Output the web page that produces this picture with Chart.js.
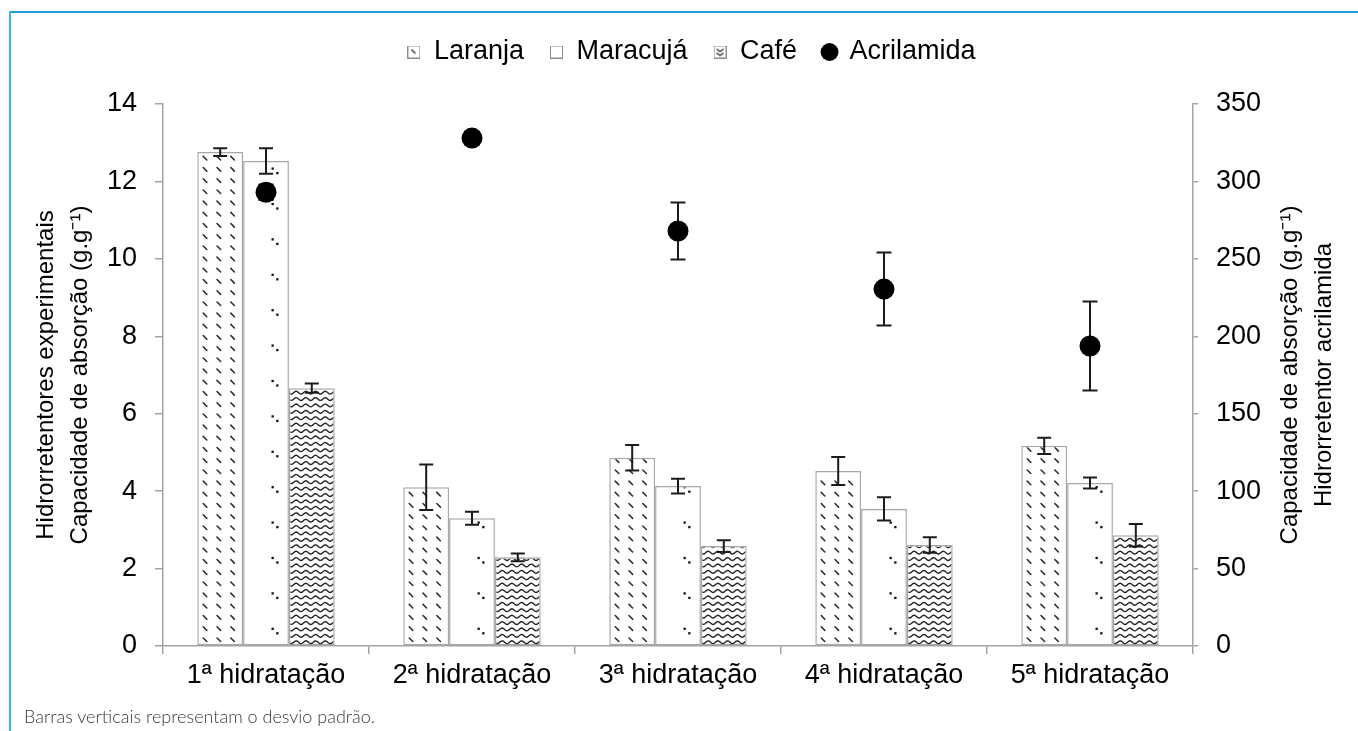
<!DOCTYPE html>
<html lang="pt">
<head>
<meta charset="utf-8">
<title>Capacidade de absorção dos hidrorretentores</title>
<script src="https://cdn.jsdelivr.net/npm/chart.js@4.4.1/dist/chart.umd.min.js"></script>
<style>
  html, body { margin: 0; padding: 0; background: #fff; }
  #wrap { position: relative; width: 1358px; height: 731px; overflow: hidden; }
  #c { position: absolute; left: 0; top: 0; width: 1358px; height: 731px; }
  .frame-top { position: absolute; left: 9px; top: 11px; right: 0; height: 2px; background: #1e9ed8; }
  .frame-left { position: absolute; left: 9px; top: 11px; bottom: 0; width: 2px; background: #3ab5e6; }
  #note { position: absolute; left: 24px; top: 705px; line-height: 20px;
          font: 300 18px Lato, "Open Sans", sans-serif; color: #3a3a3a; white-space: nowrap; }
</style>
</head>
<body>
<div id="wrap">
  <canvas id="c" width="1358" height="731"></canvas>
  <div class="frame-top"></div>
  <div class="frame-left"></div>
  <div id="note">Barras verticais representam o desvio padrão.</div>
</div>
<script>
// ---- data ----
const categories = ['1ª hidratação', '2ª hidratação', '3ª hidratação', '4ª hidratação', '5ª hidratação'];

const laranja      = [12.76, 4.10, 4.86, 4.52, 5.17];
const laranjaSd    = [0.10, 0.59, 0.33, 0.36, 0.21];
const maracuja     = [12.53, 3.30, 4.13, 3.54, 4.21];
const maracujaSd   = [0.33, 0.17, 0.19, 0.30, 0.14];
const cafe         = [6.66, 2.29, 2.58, 2.61, 2.86];
const cafeSd       = [0.12, 0.10, 0.15, 0.20, 0.29];
const acrilamida   = [293, 328, 268, 230.5, 193.7];
const acrilamidaSd = [5, 4, 18.4, 23.6, 28.7];

const seriesNames = ['Laranja', 'Maracujá', 'Café', 'Acrilamida'];
const leftTicks  = { min: 0, max: 14, step: 2 };
const rightTicks = { min: 0, max: 350, step: 50 };
const leftTitle  = ['Hidrorretentores experimentais', 'Capacidade de absorção (g.g\u207B\u00B9)'];
const rightTitle = ['Capacidade de absorção (g.g\u207B\u00B9)', 'Hidrorretentor acrilamida'];

// ---- styling ----
const FONT = '"Liberation Sans", Arial, sans-serif';
const AXIS_GREY = '#a3a3a3';
const BAR_EDGE = '#a8a8a8';
const INK = '#1c1c1c';

// fill textures drawn inside each bar rectangle
const painters = {
  dashes(ctx, r) {
    ctx.strokeStyle = '#2a2a2a';
    ctx.lineWidth = 1.5;
    ctx.lineCap = 'round';
    ctx.beginPath();
    const cols = [7.7, 21.5, 35.3];
    for (let y = r.bottom - 5.5; y > r.top + 2; y -= 11.2) {
      for (const c of cols) {
        const x = r.left + c;
        ctx.moveTo(x - 1.8, y - 1.8);
        ctx.lineTo(x + 1.8, y + 1.8);
      }
    }
    ctx.stroke();
  },
  dots(ctx, r) {
    ctx.fillStyle = '#111';
    for (let y = r.bottom - 16.5; y > r.top + 1; y -= 35.4) {
      ctx.fillRect(r.left + 29.5 - 1.1, y - 1.1, 2.3, 2.3);
      ctx.fillRect(r.left + 34.2 - 1.1, y + 4.5 - 1.1, 2.3, 2.3);
    }
  },
  waves(ctx, r) {
    ctx.strokeStyle = '#262626';
    ctx.lineWidth = 1.4;
    ctx.beginPath();
    for (let y = r.bottom - 3; y > r.top - 3; y -= 6.4) {
      for (let x = r.left; x <= r.right; x += 1) {
        const yy = y + 1.4 * Math.sin((x - r.left) * 2 * Math.PI / 9.7);
        if (x === r.left) ctx.moveTo(x, yy); else ctx.lineTo(x, yy);
      }
    }
    ctx.stroke();
  }
};

// small legend swatches
function swatch(kind) {
  const s = 13;
  const cv = document.createElement('canvas');
  cv.width = s; cv.height = s;
  const g = cv.getContext('2d');
  g.fillStyle = '#fff';
  g.fillRect(0, 0, s, s);
  g.strokeStyle = '#8c8c8c';
  g.lineWidth = 1;
  g.strokeRect(0.5, 0.5, s - 1, s - 1);
  g.strokeStyle = '#222';
  g.lineWidth = 1.3;
  if (kind === 'dashes') {
    g.beginPath(); g.moveTo(4, 4); g.lineTo(8, 8); g.stroke();
  } else if (kind === 'waves') {
    g.beginPath();
    g.moveTo(3, 3.5); g.lineTo(6.5, 6); g.lineTo(10, 3.5);
    g.moveTo(3, 7.5); g.lineTo(6.5, 10); g.lineTo(10, 7.5);
    g.stroke();
  }
  return cv;
}
const legendMarks = [swatch('dashes'), swatch('plain'), swatch('waves'), 'circle'];

function barRect(el) {
  const p = el.getProps(['x', 'y', 'base', 'width'], true);
  return { left: p.x - p.width / 2, right: p.x + p.width / 2,
           top: Math.min(p.y, p.base), bottom: Math.max(p.y, p.base), cx: p.x };
}

function errorBar(ctx, x, yTop, yBot, cap) {
  ctx.beginPath();
  ctx.moveTo(x, yTop); ctx.lineTo(x, yBot);
  ctx.moveTo(x - cap / 2, yTop); ctx.lineTo(x + cap / 2, yTop);
  ctx.moveTo(x - cap / 2, yBot); ctx.lineTo(x + cap / 2, yBot);
  ctx.stroke();
}

const decorations = {
  id: 'decorations',
  beforeInit(chart) {
    // extra room between the legend row and the plot
    const legend = chart.legend;
    if (legend) {
      const fit = legend.fit.bind(legend);
      legend.fit = function () { fit(); this.height += 28.5; };
    }
  },
  beforeDatasetDraw(chart, args) {
    const ds = chart.data.datasets[args.index];
    if (ds.type !== 'line') return;
    const ctx = chart.ctx;
    const scale = chart.scales[ds.yAxisID];
    ctx.save();
    ctx.strokeStyle = INK;
    ctx.lineWidth = 2;
    args.meta.data.forEach((pt, i) => {
      const v = ds.data[i], e = ds.errors[i];
      errorBar(ctx, pt.x, scale.getPixelForValue(v + e), scale.getPixelForValue(v - e), 15);
    });
    ctx.restore();
  },
  afterDatasetDraw(chart, args) {
    const ds = chart.data.datasets[args.index];
    if (ds.type === 'line') return;
    const ctx = chart.ctx;
    const scale = chart.scales.y;
    args.meta.data.forEach((bar, i) => {
      const r = barRect(bar);
      ctx.save();
      ctx.beginPath();
      ctx.rect(r.left + 1.5, r.top + 1.5, r.right - r.left - 3, r.bottom - r.top - 1.5);
      ctx.clip();
      painters[ds.texture] && painters[ds.texture](ctx, r);
      ctx.restore();
      ctx.save();
      ctx.strokeStyle = INK;
      ctx.lineWidth = 2;
      const v = ds.data[i], e = ds.errors[i];
      errorBar(ctx, r.cx, scale.getPixelForValue(v + e), scale.getPixelForValue(v - e), 14);
      ctx.restore();
    });
  },
  afterDraw(chart) {
    // right-hand title, read bottom-to-top like the left one
    const s = chart.scales.y1;
    const ctx = chart.ctx;
    const cy = (chart.chartArea.top + chart.chartArea.bottom) / 2;
    ctx.save();
    ctx.font = '24px ' + FONT;
    ctx.fillStyle = '#000';
    ctx.textAlign = 'center';
    ctx.textBaseline = 'middle';
    rightTitle.forEach((t, i) => {
      ctx.save();
      ctx.translate(s.left + 97 + i * 34, cy);
      ctx.rotate(-Math.PI / 2);
      ctx.fillText(t, 0, 0);
      ctx.restore();
    });
    ctx.restore();
  }
};

const barBase = {
  type: 'bar',
  backgroundColor: '#fff',
  borderColor: BAR_EDGE,
  borderWidth: 1.5,
  borderSkipped: false,
  categoryPercentage: 0.667,
  barPercentage: 1,
  yAxisID: 'y',
  order: 1
};

const data = {
  labels: categories,
  datasets: [
    Object.assign({}, barBase, { label: seriesNames[0], data: laranja, errors: laranjaSd, texture: 'dashes' }),
    Object.assign({}, barBase, { label: seriesNames[1], data: maracuja, errors: maracujaSd, texture: 'dots' }),
    Object.assign({}, barBase, { label: seriesNames[2], data: cafe, errors: cafeSd, texture: 'waves' }),
    {
      type: 'line', label: seriesNames[3], data: acrilamida, errors: acrilamidaSd,
      yAxisID: 'y1', showLine: false, order: 0,
      pointRadius: 10.5, pointHoverRadius: 10.5,
      pointBackgroundColor: '#000', pointBorderColor: '#000', pointBorderWidth: 0,
      borderColor: '#000', backgroundColor: '#000'
    }
  ]
};

const tickFont = { family: FONT, size: 27 };

new Chart(document.getElementById('c'), {
  data,
  plugins: [decorations],
  options: {
    responsive: false,
    devicePixelRatio: 1,
    animation: false,
    events: [],
    layout: { padding: { left: 25, right: 0, top: 12.5, bottom: 0 } },
    plugins: {
      tooltip: { enabled: false },
      legend: {
        position: 'top',
        align: 'center',
        labels: {
          usePointStyle: true,
          boxWidth: 13,
          boxHeight: 12.7,
          padding: 26,
          color: '#000',
          font: { family: FONT, size: 27 },
          generateLabels(chart) {
            return chart.data.datasets.map((ds, i) => ({
              text: ds.label,
              pointStyle: legendMarks[i],
              fillStyle: '#000',
              strokeStyle: '#000',
              lineWidth: 0,
              fontColor: '#000',
              hidden: false,
              datasetIndex: i
            }));
          }
        }
      }
    },
    scales: {
      x: {
        type: 'category',
        offset: true,
        grid: { display: true, drawOnChartArea: false, offset: true, tickLength: 8, color: AXIS_GREY, lineWidth: 1.5 },
        border: { display: true, color: AXIS_GREY, width: 1.5 },
        ticks: { color: '#000', font: tickFont, padding: 5, maxRotation: 0, autoSkip: false },
        afterFit(scale) { scale.height = 85; }
      },
      y: {
        position: 'left',
        min: leftTicks.min, max: leftTicks.max,
        ticks: { stepSize: leftTicks.step, color: '#000', font: tickFont, padding: 18 },
        grid: { drawOnChartArea: false, tickLength: 8, color: AXIS_GREY, lineWidth: 1.5 },
        border: { display: true, color: AXIS_GREY, width: 1.5 },
        title: {
          display: true, text: leftTitle, color: '#000',
          font: { family: FONT, size: 24, lineHeight: 1.4 },
          padding: { top: 5, bottom: 0 }
        },
        afterFit(scale) { scale.width = 138; }
      },
      y1: {
        position: 'right',
        min: rightTicks.min, max: rightTicks.max,
        ticks: { stepSize: rightTicks.step, color: '#000', font: tickFont, padding: 18 },
        grid: { drawOnChartArea: false, tickLength: 5, color: AXIS_GREY, lineWidth: 1.5 },
        border: { display: true, color: AXIS_GREY, width: 1.5 },
        title: { display: false },
        afterFit(scale) { scale.width = 165; }
      }
    }
  }
});
</script>
</body>
</html>
